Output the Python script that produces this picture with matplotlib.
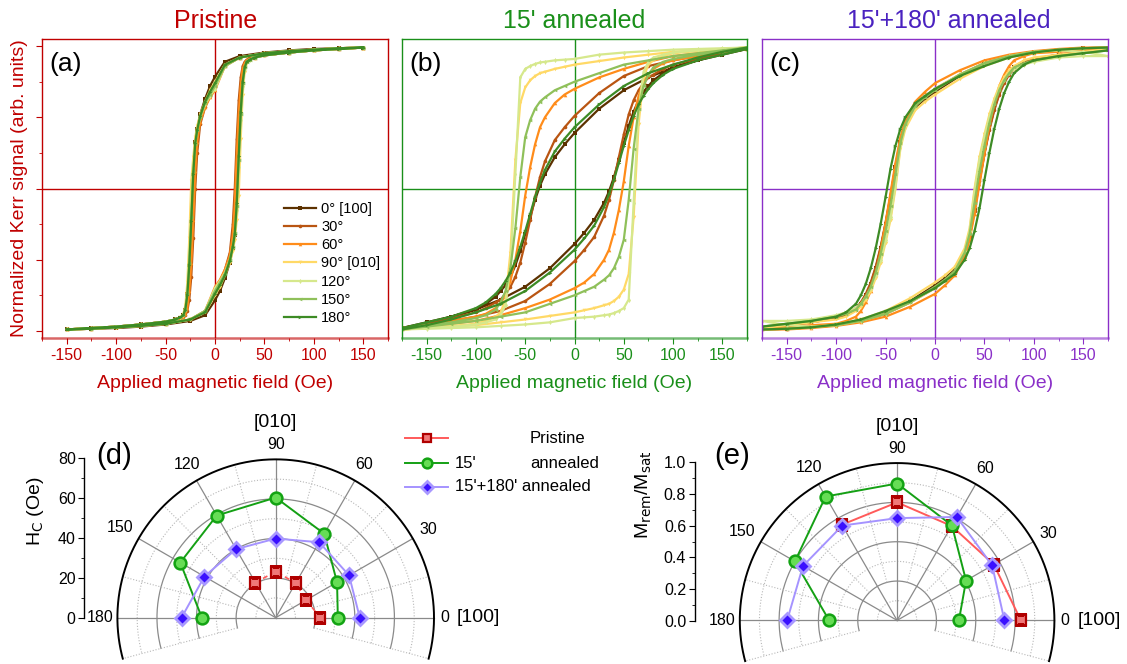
import numpy as np
import matplotlib
matplotlib.use("Agg")
import matplotlib.pyplot as plt
from matplotlib.ticker import MultipleLocator, FormatStrFormatter
from matplotlib.lines import Line2D

plt.rcParams['font.family'] = ['Liberation Sans', 'DejaVu Sans']
plt.rcParams['axes.unicode_minus'] = False

# ---------------------------------------------------------------- data
angle_labels = ['0° [100]', '30°', '60°', '90° [010]', '120°', '150°', '180°']
loop_colors = ['#5c3100', '#b95512', '#ff8c1a', '#ffd966', '#d6e88c', '#8fc05a', '#3d8b25']
loop_markers = ['s', 'o', '^', 'v', 'd', '<', '>']

# Descending-field branches (Oe, normalized Kerr signal); the ascending
# branch of each loop is the point reflection of the descending one.
field_a = [150, 125, 100, 75, 50, 25, 10, 0, -5, -10, -15, -18, -20, -22, -24,
           -26, -28, -30, -32, -35, -40, -50, -75, -100, -125, -150]
kerr_a_0 = [0.99, 0.985, 0.98, 0.97, 0.955, 0.93, 0.89, 0.785, 0.72, 0.63, 0.52, 0.42, 0.33, 0.10, -0.25,
            -0.55, -0.74, -0.85, -0.89, -0.91, -0.92, -0.935, -0.955, -0.97, -0.98, -0.99]
kerr_a_30 = [0.99, 0.985, 0.975, 0.965, 0.95, 0.92, 0.86, 0.71, 0.65, 0.57, 0.45, 0.25, 0.00, -0.35, -0.62,
             -0.78, -0.86, -0.89, -0.905, -0.915, -0.925, -0.935, -0.955, -0.97, -0.98, -0.99]
kerr_a_60 = [0.99, 0.985, 0.975, 0.965, 0.95, 0.92, 0.86, 0.69, 0.64, 0.57, 0.47, 0.33, 0.12, -0.22, -0.52,
             -0.72, -0.84, -0.88, -0.90, -0.91, -0.92, -0.935, -0.955, -0.97, -0.98, -0.99]
kerr_a_90 = [0.99, 0.985, 0.975, 0.965, 0.95, 0.92, 0.87, 0.75, 0.69, 0.61, 0.52, 0.44, 0.36, 0.22, 0.05,
             -0.35, -0.66, -0.82, -0.88, -0.905, -0.92, -0.935, -0.955, -0.97, -0.98, -0.99]
kerr_a_120 = [0.99, 0.985, 0.975, 0.965, 0.95, 0.92, 0.86, 0.70, 0.65, 0.59, 0.50, 0.41, 0.32, 0.15, -0.15,
              -0.48, -0.72, -0.84, -0.89, -0.905, -0.92, -0.935, -0.955, -0.97, -0.98, -0.99]
kerr_a_150 = [0.99, 0.985, 0.975, 0.965, 0.95, 0.92, 0.86, 0.72, 0.66, 0.60, 0.50, 0.41, 0.31, 0.12, -0.20,
              -0.52, -0.74, -0.85, -0.89, -0.905, -0.92, -0.935, -0.955, -0.97, -0.98, -0.99]
kerr_a_180 = [0.99, 0.985, 0.975, 0.965, 0.95, 0.92, 0.87, 0.74, 0.68, 0.61, 0.51, 0.41, 0.32, 0.10, -0.23,
              -0.54, -0.75, -0.85, -0.89, -0.905, -0.92, -0.935, -0.955, -0.97, -0.98, -0.99]

field_b = [175, 150, 125, 100, 75, 50, 25, 0, -10, -20, -30, -35, -40, -45, -50,
           -55, -60, -65, -70, -75, -80, -90, -100, -125, -150, -175]
kerr_b_0 = [0.98, 0.95, 0.90, 0.85, 0.78, 0.69, 0.56, 0.39, 0.31, 0.22, 0.10, 0.02, -0.08, -0.20, -0.32,
            -0.44, -0.54, -0.62, -0.68, -0.72, -0.76, -0.81, -0.85, -0.90, -0.94, -0.98]
kerr_b_30 = [0.98, 0.96, 0.93, 0.90, 0.86, 0.79, 0.67, 0.51, 0.43, 0.34, 0.19, 0.08, -0.06, -0.22, -0.38,
             -0.52, -0.62, -0.69, -0.74, -0.78, -0.80, -0.84, -0.87, -0.91, -0.95, -0.98]
kerr_b_60 = [0.99, 0.97, 0.95, 0.93, 0.89, 0.84, 0.78, 0.70, 0.66, 0.60, 0.50, 0.43, 0.31, 0.15, -0.05,
             -0.30, -0.50, -0.65, -0.75, -0.80, -0.84, -0.88, -0.90, -0.93, -0.96, -0.98]
kerr_b_90 = [0.99, 0.98, 0.97, 0.96, 0.94, 0.92, 0.895, 0.87, 0.855, 0.84, 0.82, 0.81, 0.79, 0.76, 0.71,
             0.60, 0.20, -0.45, -0.78, -0.87, -0.90, -0.93, -0.95, -0.965, -0.98, -0.99]
kerr_b_120 = [0.99, 0.985, 0.98, 0.975, 0.965, 0.955, 0.94, 0.91, 0.905, 0.90, 0.89, 0.885, 0.875, 0.86, 0.84,
              0.78, 0.10, -0.55, -0.82, -0.89, -0.92, -0.94, -0.955, -0.97, -0.98, -0.99]
kerr_b_150 = [0.99, 0.97, 0.95, 0.93, 0.90, 0.87, 0.81, 0.75, 0.72, 0.69, 0.64, 0.61, 0.56, 0.48, 0.36,
              0.08, -0.28, -0.56, -0.72, -0.80, -0.85, -0.89, -0.91, -0.94, -0.96, -0.98]
kerr_b_180 = [0.99, 0.96, 0.92, 0.87, 0.81, 0.72, 0.59, 0.43, 0.35, 0.26, 0.13, 0.04, -0.06, -0.18, -0.30,
              -0.41, -0.51, -0.59, -0.65, -0.70, -0.74, -0.80, -0.84, -0.90, -0.94, -0.98]

field_c = field_b
kerr_c_0 = [0.99, 0.985, 0.975, 0.96, 0.93, 0.88, 0.79, 0.68, 0.63, 0.57, 0.44, 0.33, 0.15, -0.06, -0.25,
            -0.42, -0.56, -0.67, -0.75, -0.81, -0.85, -0.89, -0.91, -0.94, -0.96, -0.98]
kerr_c_30 = [0.99, 0.985, 0.975, 0.96, 0.93, 0.88, 0.80, 0.70, 0.65, 0.59, 0.46, 0.34, 0.16, -0.05, -0.24,
             -0.41, -0.55, -0.66, -0.74, -0.80, -0.84, -0.88, -0.91, -0.94, -0.96, -0.98]
kerr_c_60 = [0.99, 0.99, 0.98, 0.965, 0.94, 0.90, 0.83, 0.74, 0.68, 0.61, 0.48, 0.36, 0.18, -0.03, -0.24,
             -0.44, -0.60, -0.72, -0.80, -0.86, -0.90, -0.93, -0.95, -0.96, -0.97, -0.98]
kerr_c_90 = [0.99, 0.985, 0.975, 0.955, 0.92, 0.86, 0.77, 0.66, 0.61, 0.55, 0.42, 0.28, 0.00, -0.22, -0.38,
             -0.52, -0.63, -0.72, -0.78, -0.83, -0.86, -0.90, -0.92, -0.94, -0.96, -0.98]
kerr_c_120 = [0.93, 0.96, 0.97, 0.96, 0.93, 0.88, 0.80, 0.70, 0.65, 0.58, 0.44, 0.30, 0.02, -0.20, -0.36,
              -0.50, -0.61, -0.70, -0.76, -0.81, -0.84, -0.87, -0.89, -0.92, -0.93, -0.93]
kerr_c_150 = [0.99, 0.985, 0.975, 0.96, 0.93, 0.88, 0.80, 0.69, 0.64, 0.58, 0.45, 0.32, 0.10, -0.12, -0.30,
              -0.46, -0.59, -0.69, -0.76, -0.81, -0.85, -0.88, -0.90, -0.93, -0.95, -0.97]
kerr_c_180 = [0.99, 0.985, 0.975, 0.955, 0.92, 0.86, 0.79, 0.70, 0.65, 0.60, 0.50, 0.42, 0.30, 0.14, -0.06,
              -0.25, -0.42, -0.56, -0.67, -0.75, -0.81, -0.87, -0.90, -0.93, -0.95, -0.97]

# Angular dependence of coercivity and remanence
angles_deg = [0, 30, 60, 90, 120, 150, 180]
angles_pristine = [0, 30, 60, 90, 120]
hc_pristine = [22.5, 17.8, 20.2, 23.3, 20.5]
hc_15 = [31.4, 35.8, 49.0, 60.7, 59.6, 55.7, 37.3]
hc_15_180 = [42.5, 42.8, 44.0, 40.0, 40.0, 41.6, 47.6]
mr_pristine = [0.787, 0.710, 0.693, 0.750, 0.702]
mr_15 = [0.393, 0.506, 0.697, 0.870, 0.909, 0.750, 0.432]
mr_15_180 = [0.682, 0.698, 0.759, 0.650, 0.696, 0.691, 0.699]
series_labels = ['Pristine', "15' annealed", "15'+180' annealed"]

# ---------------------------------------------------------------- layout
W, H = 1127, 664
fig = plt.figure(figsize=(W / 100, H / 100), dpi=100)


def rect(x0, y0, x1, y1):
    return [x0 / W, 1 - y1 / H, (x1 - x0) / W, (y1 - y0) / H]


def fx(x):
    return x / W


def fy(y):
    return 1 - y / H


RED = '#c00000'
GREEN = '#1a8f1a'
PURPLE = '#8a2fc8'
PURPLE_T = '#4a22c0'

panels = [
    (rect(42, 39, 388, 338), RED, 'Pristine', '(a)', field_a,
     [kerr_a_0, kerr_a_30, kerr_a_60, kerr_a_90, kerr_a_120, kerr_a_150, kerr_a_180], True),
    (rect(402, 39, 747, 338), GREEN, "15' annealed", '(b)', field_b,
     [kerr_b_0, kerr_b_30, kerr_b_60, kerr_b_90, kerr_b_120, kerr_b_150, kerr_b_180], False),
    (rect(762, 39, 1108, 338), PURPLE, "15'+180' annealed", '(c)', field_c,
     [kerr_c_0, kerr_c_30, kerr_c_60, kerr_c_90, kerr_c_120, kerr_c_150, kerr_c_180], False),
]

loop_axes = []
for pos, col, title, tag, field, curves, first in panels:
    ax = fig.add_axes(pos)
    loop_axes.append(ax)
    f = np.asarray(field, float)
    for m, c, mk, lab in zip(curves, loop_colors, loop_markers, angle_labels):
        m = np.asarray(m, float)
        ax.plot(np.concatenate([f, -f]), np.concatenate([m, -m]), color=c, lw=1.6,
                marker=mk, ms=2.6, mew=0, label=lab)
    ax.axhline(0, color=col, lw=1.0, zorder=0.5)
    ax.axvline(0, color=col, lw=1.0, zorder=0.5)
    ax.set_xlim(-175, 175)
    ax.set_ylim(-1.05, 1.05)
    for name, sp in ax.spines.items():
        sp.set_color(col)
        sp.set_linewidth(1.0)
    ax.spines['bottom'].set_linewidth(1.8)
    ax.spines['bottom'].set_alpha(0.6)
    ax.xaxis.set_major_locator(MultipleLocator(50))
    ax.xaxis.set_minor_locator(MultipleLocator(25))
    ax.tick_params(axis='x', which='both', direction='out', colors=col, labelsize=11.5, pad=3)
    ax.tick_params(axis='x', which='major', length=4)
    ax.tick_params(axis='x', which='minor', length=2.5)
    if first:
        ax.yaxis.set_major_locator(MultipleLocator(0.5))
        ax.yaxis.set_minor_locator(MultipleLocator(0.25))
        ax.tick_params(axis='y', which='both', direction='out', colors=col, labelleft=False)
        ax.tick_params(axis='y', which='major', length=4)
        ax.tick_params(axis='y', which='minor', length=2.5)
        ax.set_ylabel('Normalized Kerr signal (arb. units)', color=col, fontsize=14, labelpad=6)
    else:
        ax.tick_params(axis='y', left=False, labelleft=False)
    ax.set_xlabel('Applied magnetic field (Oe)', color=col, fontsize=14, labelpad=9)
    ax.text(0.02, 0.915, tag, transform=ax.transAxes, fontsize=19, va='center', ha='left')

fig.text(fx(215.5), fy(21), 'Pristine', color=RED, fontsize=18, ha='center', va='center')
fig.text(fx(574), fy(21), "15' annealed", color=GREEN, fontsize=18, ha='center', va='center')
fig.text(fx(949), fy(21), "15'+180' annealed", color=PURPLE_T, fontsize=18, ha='center', va='center')

h, l = loop_axes[0].get_legend_handles_labels()
fig.legend(h, l, loc='upper left', bbox_to_anchor=(fx(284), fy(202)), frameon=False,
           fontsize=10.5, handlelength=2.2, handletextpad=0.34, labelspacing=0.285,
           borderpad=0, borderaxespad=0)


# ---------------------------------------------------------------- polar panels
def polar_panel(cx, cy, R, rmax, tag, tag_x, axis_x, ylabel, ylabel_xy, fmt, step):
    sin15 = np.sin(np.deg2rad(15))
    pad = (2 - (1 + sin15)) / 2
    x0, x1 = cx - R, cx + R
    y0 = cy - R * (1 + pad)
    y1 = cy + R * (sin15 + pad)
    ax = fig.add_axes(rect(x0, y0, x1, y1), projection='polar')
    ax.set_thetalim(np.deg2rad(-15), np.deg2rad(195))
    ax.set_rlim(0, rmax)
    ax.set_aspect('auto')
    ax.grid(False)
    ax.set_xticks([])
    ax.set_yticks([])
    ax.patch.set_visible(False)
    # the radial edges of the wedge are re-enabled at draw time, so blank them
    for s in ax.spines.values():
        s.set_color('none')
        s.set_linewidth(0)

    full = np.deg2rad(np.linspace(-15, 195, 300))
    half = np.deg2rad(np.linspace(0, 180, 300))
    solid = dict(color='#8a8a8a', lw=0.9, zorder=1, clip_on=False)
    dotted = dict(color='#b8b8b8', lw=0.8, ls=(0, (1, 1.6)), zorder=1, clip_on=False)
    for k in (1, 2, 3):
        ax.plot(full, np.full_like(full, rmax * k / 4), **solid)
    for k in (3, 5, 7):
        ax.plot(full, np.full_like(full, rmax * k / 8), **dotted)
    ax.plot(half, np.full_like(half, rmax / 8), **dotted)
    for a in range(0, 181, 30):
        ax.plot([np.deg2rad(a)] * 2, [0, rmax], **solid)
    for a in list(range(15, 180, 30)) + [-15, 195]:
        ax.plot([np.deg2rad(a)] * 2, [rmax / 4, rmax], **dotted)
    ax.plot(full, np.full_like(full, rmax), color='black', lw=1.4, zorder=2, clip_on=False)

    for a, rr in ((90, 1.094), (120, 1.12), (60, 1.115), (150, 1.135), (30, 1.11), (180, 1.11)):
        ax.text(np.deg2rad(a), rmax * rr, str(a), fontsize=11.5, ha='center', va='center')
    ax.text(0, rmax * 1.04, '0', fontsize=11.5, ha='left', va='center')
    ax.text(np.deg2rad(90), rmax * 1.235, '[010]', fontsize=14, ha='center', va='center')
    ax.text(0, rmax * 1.145, '[100]', fontsize=14, ha='left', va='center')

    # radial scale drawn as a separate vertical axis
    sax = fig.add_axes(rect(axis_x, cy - R, axis_x + 1, cy))
    sax.set_ylim(0, rmax)
    sax.set_xticks([])
    for s in ('top', 'right', 'bottom'):
        sax.spines[s].set_visible(False)
    sax.spines['left'].set_linewidth(1.0)
    sax.patch.set_visible(False)
    sax.yaxis.set_major_locator(MultipleLocator(step))
    sax.yaxis.set_minor_locator(MultipleLocator(step / 2))
    sax.yaxis.set_major_formatter(FormatStrFormatter(fmt))
    sax.tick_params(axis='y', which='both', direction='out', labelsize=11.5, pad=1.5)
    sax.tick_params(axis='y', which='major', length=4.5)
    sax.tick_params(axis='y', which='minor', length=2.5)
    fig.text(fx(ylabel_xy[0]), fy(ylabel_xy[1]), ylabel, rotation=90, fontsize=14,
             ha='center', va='center')
    fig.text(fx(tag_x), fy(456), tag, fontsize=21, ha='center', va='center')
    return ax


red_kw = dict(color='#ff5a5a', marker='s', ms=7.5, mfc='#f07878', mec='#b00000', mew=1.6, zorder=3)
green_kw = dict(color='#14a014', marker='o', ms=8.5, mfc='#66dd55', mec='#13a313', mew=1.8, zorder=3)
purple_kw = dict(color='#a593ff', marker='D', ms=7.5, mfc='#3a10ff', mec='#a898ff', mew=2.0, zorder=3)

axd = polar_panel(275.7, 618.3, 160, 80, '(d)', 114, 84, 'H$_\\mathrm{C}$ (Oe)', (35, 511), '%d', 20)
axd.plot(np.deg2rad(angles_pristine), hc_pristine, ls=(0, (3, 2)), lw=1.2, label=series_labels[0], **red_kw)
axd.plot(np.deg2rad(angles_deg), hc_15, lw=1.4, label=series_labels[1], **green_kw)
axd.plot(np.deg2rad(angles_deg), hc_15_180, lw=1.4, label=series_labels[2], **purple_kw)

axe = polar_panel(897.1, 621, 159, 1.0, '(e)', 732, 694.5, 'M$_\\mathrm{rem}$/M$_\\mathrm{sat}$',
                  (644, 495), '%.1f', 0.2)
axe.plot(np.deg2rad(angles_pristine), mr_pristine, lw=1.4, **red_kw)
axe.plot(np.deg2rad(angles_deg), mr_15, lw=1.4, **green_kw)
axe.plot(np.deg2rad(angles_deg), mr_15_180, lw=1.4, **purple_kw)

# key for the polar panels: sample line with marker, then the text
for yrow, kw in zip((438.3, 463.3, 486.7), (red_kw, green_kw, purple_kw)):
    style = {k: v for k, v in kw.items() if k not in ('marker', 'ms', 'mfc', 'mec', 'mew', 'zorder')}
    fig.add_artist(Line2D([fx(405), fx(448)], [fy(yrow)] * 2, lw=1.4, transform=fig.transFigure, **style))
    fig.add_artist(Line2D([fx(426.7)], [fy(yrow)], transform=fig.transFigure, ls='none',
                          **{k: v for k, v in kw.items() if k in ('marker', 'mfc', 'mec', 'mew')},
                          ms=kw['ms'] - 1.5))
fig.text(fx(455), fy(463.3), "15'", fontsize=12, ha='left', va='center')
fig.text(fx(455), fy(486.7), "15'+180' annealed", fontsize=12, ha='left', va='center')
fig.text(fx(530), fy(438.3), 'Pristine', fontsize=12, ha='left', va='center')
fig.text(fx(530), fy(463.3), 'annealed', fontsize=12, ha='left', va='center')

fig.savefig('out.png', dpi=100)
